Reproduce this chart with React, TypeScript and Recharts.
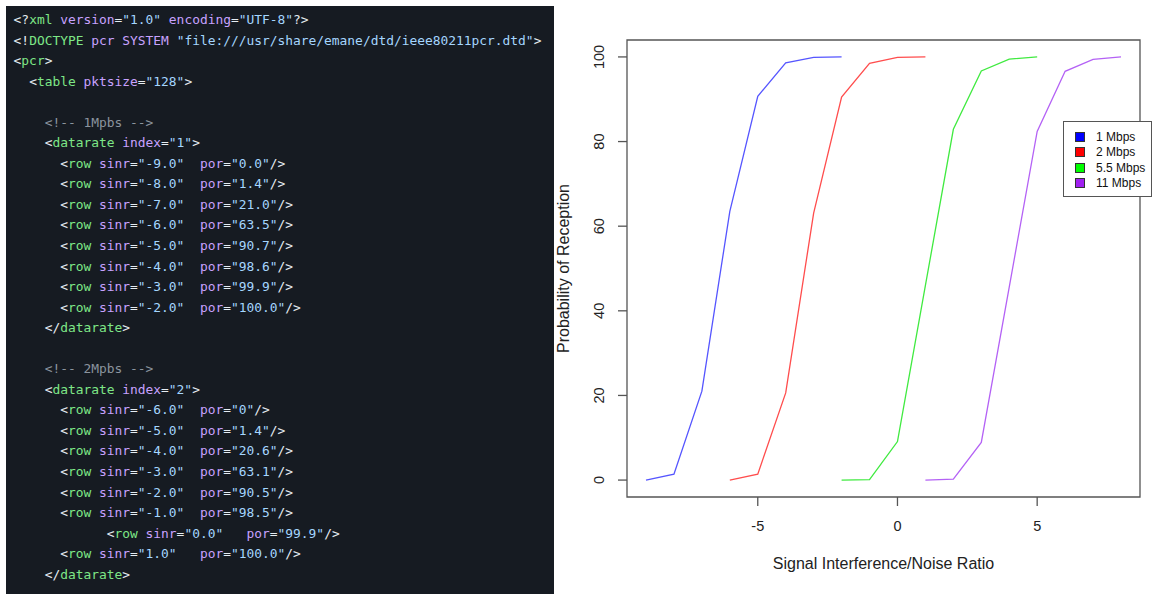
import React from "react";
import { LineChart, Line, XAxis, YAxis, ReferenceArea, Legend } from "recharts";

// probability of reception (%) vs SINR, one array pair per data rate
const sinr1 = [-9, -8, -7, -6, -5, -4, -3, -2];
const por1 = [0.0, 1.4, 21.0, 63.5, 90.7, 98.6, 99.9, 100.0];
const sinr2 = [-6, -5, -4, -3, -2, -1, 0, 1];
const por2 = [0, 1.4, 20.6, 63.1, 90.5, 98.5, 99.9, 100.0];
const sinr55 = [-2, -1, 0, 1, 2, 3, 4, 5];
const por55 = [0, 0.1, 9.1, 46.0, 82.9, 96.7, 99.5, 100.0];
const sinr11 = [1, 2, 3, 4, 5, 6, 7, 8];
const por11 = [0, 0.2, 8.9, 45.6, 82.4, 96.6, 99.4, 100.0];

const seriesNames = ["1 Mbps", "2 Mbps", "5.5 Mbps", "11 Mbps"];
const xTicks = [-5, 0, 5];
const yTicks = [0, 20, 40, 60, 80, 100];

const lineColors = ["#5555ff", "#ff4d4d", "#40ea40", "#b462f5"];
const keyColors = ["#0000ff", "#ff0000", "#00ff00", "#a020f0"];

const codeLines = [
  '<?xml version="1.0" encoding="UTF-8"?>',
  '<!DOCTYPE pcr SYSTEM "file:///usr/share/emane/dtd/ieee80211pcr.dtd">',
  "<pcr>",
  '  <table pktsize="128">',
  "",
  "    <!-- 1Mpbs -->",
  '    <datarate index="1">',
  '      <row sinr="-9.0"  por="0.0"/>',
  '      <row sinr="-8.0"  por="1.4"/>',
  '      <row sinr="-7.0"  por="21.0"/>',
  '      <row sinr="-6.0"  por="63.5"/>',
  '      <row sinr="-5.0"  por="90.7"/>',
  '      <row sinr="-4.0"  por="98.6"/>',
  '      <row sinr="-3.0"  por="99.9"/>',
  '      <row sinr="-2.0"  por="100.0"/>',
  "    </datarate>",
  "",
  "    <!-- 2Mpbs -->",
  '    <datarate index="2">',
  '      <row sinr="-6.0"  por="0"/>',
  '      <row sinr="-5.0"  por="1.4"/>',
  '      <row sinr="-4.0"  por="20.6"/>',
  '      <row sinr="-3.0"  por="63.1"/>',
  '      <row sinr="-2.0"  por="90.5"/>',
  '      <row sinr="-1.0"  por="98.5"/>',
  '            <row sinr="0.0"   por="99.9"/>',
  '      <row sinr="1.0"   por="100.0"/>',
  "    </datarate>",
];

const syntax = {
  punct: "#e6edf3",
  tag: "#7ee787",
  attr: "#c8a2ff",
  str: "#a5d6ff",
  comment: "#8b949e",
};

function highlight(line: string) {
  const c = line.match(/^(\s*)(<!--.*-->)$/);
  if (c) {
    return [
      <span key="s">{c[1]}</span>,
      <span key="c" style={{ color: syntax.comment }}>
        {c[2]}
      </span>,
    ];
  }
  const out: React.ReactNode[] = [];
  const re = /(<\/|<\?|<!|<|\/>|\?>|>)|("[^"]*")|(=)|([A-Za-z_][\w.-]*)|(\s+)|(.)/g;
  let expectTag = false;
  let m: RegExpExecArray | null;
  let k = 0;
  while ((m = re.exec(line))) {
    let color = syntax.punct;
    if (m[1]) {
      expectTag = m[1].startsWith("<");
    } else if (m[2]) {
      color = syntax.str;
    } else if (m[4]) {
      color = expectTag ? syntax.tag : syntax.attr;
      expectTag = false;
    }
    out.push(
      <span key={k++} style={{ color }}>
        {m[0]}
      </span>
    );
  }
  return out;
}

const toPoints = (xs: number[], ys: number[]) => xs.map((x, i) => ({ x, y: ys[i] }));
const series = [
  toPoints(sinr1, por1),
  toPoints(sinr2, por2),
  toPoints(sinr55, por55),
  toPoints(sinr11, por11),
];

// R style 4% padding around the data range
const allX = [...sinr1, ...sinr2, ...sinr55, ...sinr11];
const allY = [...por1, ...por2, ...por55, ...por11];
const xMin = Math.min(...allX), xMax = Math.max(...allX);
const yMin = Math.min(...allY), yMax = Math.max(...allY);
const xPad = (xMax - xMin) * 0.04;
const yPad = (yMax - yMin) * 0.04;
const xDomain = [xMin - xPad, xMax + xPad];
const yDomain = [yMin - yPad, yMax + yPad];

const rFont = '"Liberation Sans", Arial, Helvetica, sans-serif';

const YTick = (props: any) => {
  const { x, y, payload } = props;
  return (
    <text
      x={x}
      y={y}
      transform={`rotate(-90 ${x} ${y})`}
      textAnchor="middle"
      fontSize={14.5}
      fill="#222"
      fontFamily={rFont}
    >
      {payload.value}
    </text>
  );
};

const LegendBox = () => (
  <div
    style={{
      boxSizing: "border-box",
      width: 89,
      height: 76,
      border: "1.3px solid #555",
      background: "#fff",
      padding: "7.5px 0 0 11px",
      fontFamily: rFont,
      fontSize: 12,
      color: "#111",
    }}
  >
    {seriesNames.map((name, i) => (
      <div key={name} style={{ display: "flex", alignItems: "center", height: 15.3 }}>
        <span
          style={{
            display: "inline-block",
            boxSizing: "border-box",
            width: 10,
            height: 10,
            background: keyColors[i],
            border: "1px solid #333",
            marginRight: 11,
          }}
        />
        <span>{name}</span>
      </div>
    ))}
  </div>
);

const App: React.FC = () => {
  return (
    <div style={{ position: "relative", width: 1152, height: 594, background: "#fff", overflow: "hidden" }}>
      <style>{"body{margin:0}"}</style>
      <div
        style={{
          position: "absolute",
          left: 6,
          top: 6,
          width: 548,
          height: 588,
          background: "#161b22",
        }}
      >
        <pre
          style={{
            margin: 0,
            padding: "4px 0 0 7.6px",
            fontFamily: '"DejaVu Sans Mono", "Liberation Mono", monospace',
            fontSize: 12.9,
            lineHeight: "20.55px",
            color: syntax.punct,
            whiteSpace: "pre",
          }}
        >
          {codeLines.map((line, i) => (
            <div key={i} style={{ height: 20.55 }}>
              {highlight(line)}
            </div>
          ))}
        </pre>
      </div>

      <div style={{ position: "absolute", left: 554, top: 0, fontFamily: rFont }}>
        <LineChart width={598} height={594} margin={{ top: 40, right: 12, bottom: 0, left: 0 }}>
          <XAxis
            dataKey="x"
            type="number"
            domain={xDomain}
            ticks={xTicks}
            height={97}
            axisLine={false}
            tickSize={9}
            tickMargin={15}
            tickLine={{ stroke: "#555", strokeWidth: 1.3 }}
            tick={{ fontSize: 14.5, fill: "#222", fontFamily: rFont }}
            label={{
              value: "Signal Interference/Noise Ratio",
              position: "insideBottom",
              offset: 25,
              fontSize: 16,
              fill: "#222",
              fontFamily: rFont,
            }}
          />
          <YAxis
            type="number"
            domain={yDomain}
            ticks={yTicks}
            width={73}
            axisLine={false}
            tickSize={9}
            tickMargin={14}
            tickLine={{ stroke: "#555", strokeWidth: 1.3 }}
            tick={<YTick />}
            label={{
              value: "Probability of Reception",
              angle: -90,
              position: "insideLeft",
              offset: 9,
              fontSize: 16,
              fill: "#222",
              fontFamily: rFont,
              style: { textAnchor: "middle" },
            }}
          />
          <ReferenceArea
            x1={xDomain[0]}
            x2={xDomain[1]}
            y1={yDomain[0]}
            y2={yDomain[1]}
            fill="none"
            fillOpacity={0}
            stroke="#555"
            strokeWidth={1.3}
            ifOverflow="visible"
          />
          {series.map((pts, i) => (
            <Line
              key={seriesNames[i]}
              name={seriesNames[i]}
              data={pts}
              dataKey="y"
              type="linear"
              stroke={lineColors[i]}
              strokeWidth={1.3}
              dot={false}
              activeDot={false}
              isAnimationActive={false}
            />
          ))}
          <Legend
            layout="horizontal"
            verticalAlign="middle"
            align="center"
            wrapperStyle={{ left: 509, top: 121, width: 89, height: 76 }}
            content={() => <LegendBox />}
          />
        </LineChart>
      </div>
    </div>
  );
};

export default App;
